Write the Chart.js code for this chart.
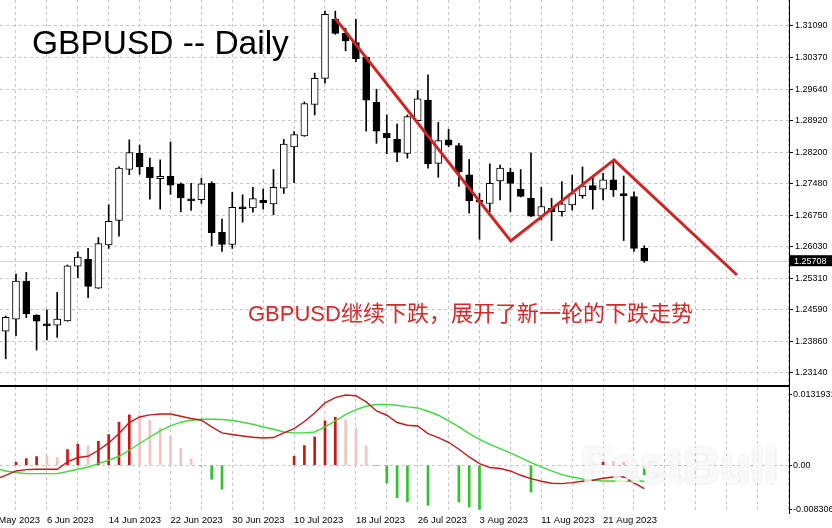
<!DOCTYPE html>
<html>
<head>
<meta charset="utf-8">
<title>GBPUSD Daily</title>
<script src="https://cdn.jsdelivr.net/npm/chart.js@4.4.0/dist/chart.umd.min.js"></script>
<style>
  body { margin: 0; background: #fff; }
  #wrap { position: relative; width: 832px; height: 528px; overflow: hidden; }
  #price-box { position: absolute; left: 0; top: 0; width: 832px; height: 385px; }
  #macd-box { position: absolute; left: 0; top: 385px; width: 832px; height: 143px; }
</style>
</head>
<body>
<div id="wrap">
  <div id="price-box"><canvas id="price-chart"></canvas></div>
  <div id="macd-box"><canvas id="macd-chart"></canvas></div>
</div>
<script>
// daily candles, bar 0 = 31 May 2023 ... bar 62 = 25 Aug 2023
let openPrices = [
  1.2409, 1.2437, 1.2524, 1.2446, 1.2426, 1.2423, 1.2433, 1.2558, 1.2574, 1.2508,
  1.2607, 1.2663, 1.2780, 1.2817, 1.2785, 1.2759, 1.2764, 1.2747, 1.2711, 1.2711,
  1.2748, 1.2636, 1.2608, 1.2693, 1.2692, 1.2710, 1.2701, 1.2737, 1.2832, 1.2857,
  1.2929, 1.2989, 1.3124, 1.3092, 1.3071, 1.3037, 1.2934, 1.2863, 1.2849, 1.2817,
  1.2892, 1.2939, 1.2794, 1.2848, 1.2835, 1.2768, 1.2708, 1.2702, 1.2754, 1.2774,
  1.2735, 1.2714, 1.2673, 1.2691, 1.2683, 1.2699, 1.2720, 1.2743, 1.2735, 1.2756,
  1.2725, 1.2718, 1.2599
];
let highPrices = [
  1.2444, 1.2540, 1.2544, 1.2447, 1.2458, 1.2498, 1.2561, 1.2591, 1.2599, 1.2624,
  1.2699, 1.2786, 1.2848, 1.2836, 1.2806, 1.2802, 1.2843, 1.2749, 1.2748, 1.2760,
  1.2752, 1.2666, 1.2728, 1.2722, 1.2739, 1.2735, 1.2780, 1.2849, 1.2867, 1.2935,
  1.3001, 1.3143, 1.3143, 1.3104, 1.3124, 1.3040, 1.2964, 1.2905, 1.2884, 1.2905,
  1.2961, 1.2997, 1.2888, 1.2872, 1.2840, 1.2803, 1.2725, 1.2793, 1.2790, 1.2783,
  1.2780, 1.2818, 1.2739, 1.2714, 1.2752, 1.2767, 1.2786, 1.2763, 1.2771, 1.2798,
  1.2765, 1.2729, 1.2605
];
let lowPrices = [
  1.2346, 1.2399, 1.2440, 1.2366, 1.2389, 1.2395, 1.2432, 1.2532, 1.2486, 1.2507,
  1.2599, 1.2627, 1.2768, 1.2769, 1.2712, 1.2689, 1.2723, 1.2683, 1.2686, 1.2702,
  1.2605, 1.2592, 1.2599, 1.2659, 1.2682, 1.2689, 1.2676, 1.2725, 1.2750, 1.2856,
  1.2905, 1.2978, 1.3090, 1.3052, 1.3027, 1.2868, 1.2840, 1.2816, 1.2798, 1.2806,
  1.2891, 1.2783, 1.2762, 1.2832, 1.2741, 1.2680, 1.2620, 1.2683, 1.2710, 1.2683,
  1.2717, 1.2672, 1.2664, 1.2617, 1.2673, 1.2687, 1.2714, 1.2689, 1.2710, 1.2718,
  1.2617, 1.2592, 1.2567
];
let closePrices = [
  1.2441, 1.2524, 1.2449, 1.2432, 1.2421, 1.2437, 1.2559, 1.2579, 1.2512, 1.2610,
  1.2661, 1.2783, 1.2819, 1.2786, 1.2761, 1.2764, 1.2744, 1.2715, 1.2708, 1.2747,
  1.2635, 1.2608, 1.2693, 1.2690, 1.2713, 1.2704, 1.2739, 1.2838, 1.2860, 1.2931,
  1.2989, 1.3136, 1.3092, 1.3075, 1.3034, 1.2939, 1.2868, 1.2853, 1.2819, 1.2901,
  1.2942, 1.2793, 1.2846, 1.2836, 1.2775, 1.2708, 1.2705, 1.2748, 1.2783, 1.2748,
  1.2718, 1.2673, 1.2695, 1.2683, 1.2701, 1.2725, 1.2742, 1.2733, 1.2756, 1.2733,
  1.2720, 1.2599, 1.25708
];

let priceTicks = [1.31090, 1.30370, 1.29640, 1.28920, 1.28200, 1.27480,
                  1.26750, 1.26030, 1.25310, 1.24590, 1.23860, 1.23140];

// hand drawn trend line (bar position, price)
let trendBars = [31.97, 49.03, 59.06, 71.0];
let trendPrices = [1.3127, 1.2616, 1.2802, 1.2538];

// oscillator lines, first value = 30 May 2023 (bar -1)
let macdMain = [
  -0.00263, -0.00188, -0.00107, -0.00081, -0.00075, -0.00075, -0.00075, 0.00062, 0.00145, 0.00169, 0.00282,
  0.00419, 0.00595, 0.00802, 0.00907, 0.00945, 0.00963, 0.00963, 0.0092, 0.00877, 0.00845,
  0.00719, 0.00607, 0.00577, 0.0055, 0.00526, 0.00513, 0.0052, 0.00607, 0.00689, 0.00821,
  0.00982, 0.0117, 0.01271, 0.01319, 0.01305, 0.01189, 0.0102, 0.00939, 0.00802, 0.00751,
  0.00738, 0.00595, 0.0052, 0.00432, 0.003, 0.00156, 0.00032, -0.00043, -0.00062, -0.00107,
  -0.00188, -0.0025, -0.003, -0.00338, -0.00344, -0.00325, -0.003, -0.00282, -0.00244, -0.0022,
  -0.0022, -0.00332, -0.00438
];
let macdSignal = [
  -0.0006, -0.00107, -0.00137, -0.00156, -0.00156, -0.00156, -0.00156, -0.00118, -0.00075, -0.00032, 0.00032,
  0.00094, 0.00169, 0.00282, 0.00408, 0.00531, 0.00644, 0.00738, 0.00808, 0.00845, 0.00864,
  0.00864, 0.00858, 0.00839, 0.00808, 0.0077, 0.00719, 0.00676, 0.00625, 0.00607, 0.00607,
  0.00625, 0.00719, 0.00832, 0.00952, 0.01046, 0.01108, 0.0114, 0.0114, 0.01127, 0.01095,
  0.01076, 0.01014, 0.00939, 0.00832, 0.00719, 0.00595, 0.00488, 0.00394, 0.00314, 0.00231,
  0.00145, 0.00051, -0.00032, -0.00107, -0.00175, -0.0022, -0.00257, -0.00282, -0.00295, -0.00295,
  -0.00295, -0.00295, -0.003
];

// histogram buffers, one value per candle (null = no bar)
let histRed = [
  null, 0.00056, 0.00126, 0.00163, null, null, 0.00295, 0.00395, null, 0.00451,
  0.00577, 0.00808, 0.00946, null, null, null, null, null, null, null,
  null, null, null, null, null, null, null, null, 0.00169, 0.0037,
  0.00532, 0.00833, 0.00902, null, null, null, null, null, null, null,
  null, null, null, null, null, null, null, null, null, null,
  null, null, null, null, null, null, null, null, 0.00056, null,
  null, null, null
];
let histPink = [
  null, null, null, null, 0.00182, 0.00145, null, null, 0.00363, null,
  null, null, null, 0.0094, 0.0084, 0.00701, 0.00545, 0.0032, 0.00118, null,
  null, null, null, null, null, null, null, null, null, null,
  null, null, null, 0.00846, 0.0069, 0.00363, null, null, null, null,
  null, null, null, null, null, null, null, null, null, null,
  null, null, null, null, null, null, null, null, null, 0.00075,
  0.00056, null, null
];
let histGreen = [
  null, null, null, null, null, null, null, null, null, null,
  null, null, null, null, null, null, null, null, null, -0.0001,
  -0.00263, -0.00451, null, null, null, null, null, null, null, null,
  null, null, null, null, null, null, -0.0001, -0.00333, -0.00607, -0.00682,
  null, -0.00752, null, null, -0.0069, -0.00784, -0.00827, null, null, null,
  null, -0.00502, null, null, null, null, null, null, null, null,
  null, null, -0.0018
];

let macdTicks = [0.0131931, 0, -0.008306];
let macdTickLabels = ["0.0131931", "0.00", "-0.008306"];

let dateLabels = ["29 May 2023", "6 Jun 2023", "14 Jun 2023", "22 Jun 2023", "30 Jun 2023",
  "10 Jul 2023", "18 Jul 2023", "26 Jul 2023", "3 Aug 2023", "11 Aug 2023", "21 Aug 2023"];
let dateLabelBars = [-2, 4, 10, 16, 22, 28, 34, 40, 46, 52, 58];

let noteText = "GBPUSD继续下跌，展开了新一轮的下跌走势";

// view window
let xMin = -0.553;
let xMax = 76.05;
let gridBars = [];
for (let b = -2; b <= 76; b += 3) gridBars.push(b);

const GRID = "#c6c6c6";
const AXIS_FONT = { family: "Liberation Sans", size: 9 };

// chart.js reserves room for the outer tick labels, we want the plot edge to edge
let noPadding = (s) => {
  s.paddingTop = 0;
  s.paddingBottom = 0;
  s.paddingLeft = 0;
  s.paddingRight = 0;
};

let xScale = (withLabels) => ({
  type: "linear",
  min: xMin,
  max: xMax,
  offset: false,
  afterBuildTicks: (s) => { s.ticks = gridBars.map((v) => ({ value: v })); },
  afterFit: (s) => { s.height = withLabels ? 15 : 0; noPadding(s); },
  ticks: {
    display: withLabels,
    autoSkip: false,
    maxRotation: 0,
    minRotation: 0,
    align: "start",
    padding: 2,
    color: "#000",
    font: { family: "Liberation Sans", size: 9.5 },
    callback: (v) => {
      let k = dateLabelBars.indexOf(v);
      return k >= 0 ? dateLabels[k] : "";
    },
  },
  grid: { color: GRID, offset: false, drawTicks: false },
  border: { display: false, dash: [3, 3] },
});

let candles = openPrices.map((o, i) => ({ x: i, y: [o, closePrices[i]] }));
let wicks = openPrices.map((o, i) => ({ x: i, y: [lowPrices[i], highPrices[i]] }));
let trend = trendBars.map((b, i) => ({ x: b, y: trendPrices[i] }));

let priceExtras = {
  id: "priceExtras",
  beforeDatasetsDraw(chart) {
    let { ctx, chartArea, scales } = chart;
    let y = Math.round(scales.y.getPixelForValue(closePrices[closePrices.length - 1])) + 0.5;
    ctx.save();
    ctx.strokeStyle = "#d4d4d4";
    ctx.lineWidth = 1;
    ctx.beginPath();
    ctx.moveTo(chartArea.left, y);
    ctx.lineTo(chartArea.right, y);
    ctx.stroke();
    ctx.restore();
  },
  afterDraw(chart) {
    let { ctx, chartArea, scales } = chart;
    ctx.save();
    ctx.fillStyle = "#000";
    ctx.font = '33.5px "Liberation Sans"';
    ctx.textBaseline = "alphabetic";
    ctx.fillText("GBPUSD -- Daily", 32, 54);

    ctx.fillStyle = "#d42a2a";
    ctx.font = '22px "Liberation Sans", "Noto Sans CJK SC"';
    ctx.fillText(noteText, 248, 321);

    // last price tag
    let last = closePrices[closePrices.length - 1];
    let y = scales.y.getPixelForValue(last);
    ctx.fillStyle = "#000";
    ctx.fillRect(chartArea.right + 1, y - 5.5, 42, 11);
    ctx.fillStyle = "#fff";
    ctx.font = '9px "Liberation Sans"';
    ctx.textBaseline = "middle";
    ctx.fillText(last.toFixed(5), chartArea.right + 5, y + 0.5);
    ctx.restore();
  },
};

new Chart(document.getElementById("price-chart"), {
  type: "bar",
  data: {
    datasets: [
      {
        type: "line",
        data: trend,
        borderColor: "#d42323",
        borderWidth: 3,
        pointRadius: 0,
        order: 0,
      },
      {
        data: candles,
        grouped: false,
        barThickness: 7,
        minBarLength: 2,
        borderWidth: 1,
        borderSkipped: false,
        borderColor: "#000",
        backgroundColor: (c) => closePrices[c.dataIndex] >= openPrices[c.dataIndex] ? "#fff" : "#000",
        order: 1,
      },
      {
        data: wicks,
        grouped: false,
        barThickness: 1,
        backgroundColor: "#000",
        borderWidth: 0,
        order: 2,
      },
    ],
  },
  options: {
    responsive: true,
    maintainAspectRatio: false,
    animation: false,
    events: [],
    layout: { padding: 0 },
    plugins: { legend: { display: false }, tooltip: { enabled: false } },
    scales: {
      x: xScale(false),
      y: {
        position: "right",
        min: 1.22858,
        max: 1.31686,
        afterBuildTicks: (s) => { s.ticks = priceTicks.map((v) => ({ value: v })); },
        afterFit: (s) => { s.width = 43; noPadding(s); },
        ticks: {
          autoSkip: false,
          padding: 2,
          color: "#000",
          font: AXIS_FONT,
          callback: (v) => v.toFixed(5),
        },
        grid: { color: GRID, tickColor: "#000", tickLength: 4 },
        border: { display: true, color: "#000", dash: [3, 3] },
      },
    },
  },
  plugins: [priceExtras],
});

let macdExtras = {
  id: "macdExtras",
  afterDatasetsDraw(chart) {
    let { ctx } = chart;
    ctx.save();
    ctx.font = 'bold 50px "Liberation Sans"';
    ctx.textBaseline = "alphabetic";
    ctx.shadowColor = "rgba(0,0,0,0.15)";
    ctx.shadowBlur = 4;
    ctx.fillStyle = "rgba(252,252,252,0.8)";
    ctx.fillText("FastBull", 581, 98);
    ctx.restore();
  },
  afterDraw(chart) {
    let { ctx, chartArea } = chart;
    ctx.save();
    ctx.fillStyle = "#000";
    ctx.fillRect(0, 0, chartArea.right + 1, 2);
    ctx.restore();
  },
};

let histSet = (values, color) => ({
  data: values.map((v, i) => ({ x: i, y: v })),
  grouped: false,
  barThickness: 2,
  backgroundColor: color,
  borderWidth: 0,
  order: 2,
});

new Chart(document.getElementById("macd-chart"), {
  type: "bar",
  data: {
    datasets: [
      {
        type: "line",
        data: macdMain.map((v, i) => ({ x: i - 1, y: v })),
        borderColor: "#c41a1a",
        borderWidth: 1.4,
        pointRadius: 0,
        order: 0,
      },
      {
        type: "line",
        data: macdSignal.map((v, i) => ({ x: i - 1, y: v })),
        borderColor: "#3ddc3d",
        borderWidth: 1.4,
        pointRadius: 0,
        order: 1,
      },
      histSet(histRed, "#d01414"),
      histSet(histPink, "#f3c3c3"),
      histSet(histGreen, "#2fc42f"),
    ],
  },
  options: {
    responsive: true,
    maintainAspectRatio: false,
    animation: false,
    events: [],
    layout: { padding: { top: 2 } },
    plugins: { legend: { display: false }, tooltip: { enabled: false } },
    scales: {
      x: xScale(true),
      y: {
        position: "right",
        min: -0.00896,
        max: 0.01469,
        afterBuildTicks: (s) => { s.ticks = macdTicks.map((v) => ({ value: v })); },
        afterFit: (s) => { s.width = 43; noPadding(s); },
        ticks: {
          autoSkip: false,
          padding: 1,
          color: "#000",
          font: AXIS_FONT,
          callback: (v) => macdTickLabels[macdTicks.indexOf(v)],
        },
        grid: {
          color: (c) => (c.tick && c.tick.value === 0 ? GRID : "rgba(0,0,0,0)"),
          tickColor: "#000",
          tickLength: 3,
        },
        border: { display: true, color: "#000", dash: [3, 3] },
      },
    },
  },
  plugins: [macdExtras],
});
</script>
</body>
</html>
